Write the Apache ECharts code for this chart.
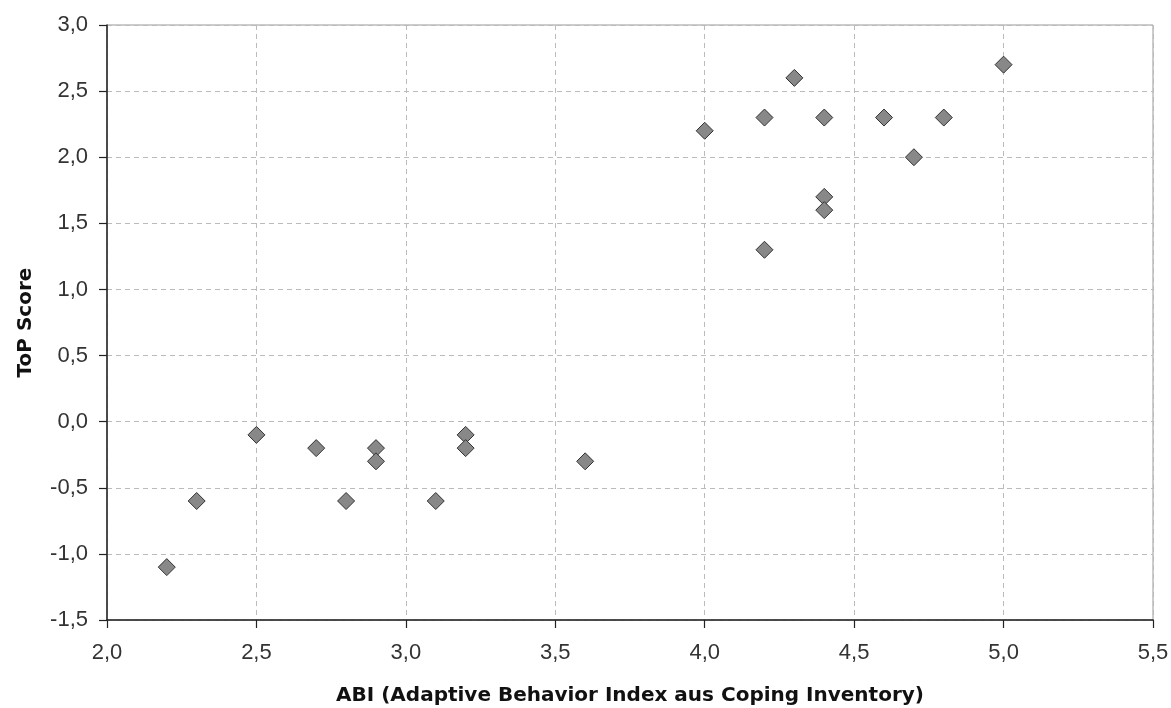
<!DOCTYPE html>
<html>
<head>
<meta charset="utf-8">
<script src="https://cdn.jsdelivr.net/npm/echarts@6/dist/echarts.min.js"></script>
<style>
html,body{margin:0;padding:0;background:#fff;}
#chart{width:1171px;height:708px;}
</style>
</head>
<body>
<div id="chart"></div>
<script>
const abi = [2.2, 2.3, 2.5, 2.7, 2.8, 2.9, 2.9, 3.1, 3.2, 3.2, 3.6, 4.0, 4.2, 4.2, 4.3, 4.4, 4.4, 4.4, 4.6, 4.7, 4.8, 5.0];
const topScore = [-1.1, -0.6, -0.1, -0.2, -0.6, -0.2, -0.3, -0.6, -0.1, -0.2, -0.3, 2.2, 2.3, 1.3, 2.6, 2.3, 1.7, 1.6, 2.3, 2.0, 2.3, 2.7];
const xTitle = 'ABI (Adaptive Behavior Index aus Coping Inventory)';
const yTitle = 'ToP Score';

const fmt = v => v.toFixed(1).replace('.', ',');
const labelStyle = {formatter: fmt, fontFamily: 'Liberation Sans, Arial', fontSize: 22, color: '#333'};
const titleStyle = {fontFamily: 'DejaVu Sans', fontWeight: 'bold', fontSize: 20, color: '#111'};
const chart = echarts.init(document.getElementById('chart'));
chart.setOption({
  backgroundColor: '#fff',
  animation: false,
  grid: {left: 107, right: 18, top: 25, bottom: 88, show: true, borderColor: '#999', borderWidth: 1,
         containLabel: false, outerBoundsMode: 'none'},
  xAxis: {
    type: 'value', min: 2.0, max: 5.5, interval: 0.5,
    name: xTitle, nameLocation: 'middle', nameGap: 66,
    nameTextStyle: titleStyle,
    axisLine: {show: true, onZero: false, lineStyle: {color: '#222', width: 1.5}},
    axisTick: {show: true, inside: false, length: 8, lineStyle: {color: '#222', width: 1.2}},
    axisLabel: Object.assign({margin: 22}, labelStyle),
    splitLine: {show: true, lineStyle: {color: '#bbb', type: [5, 4]}}
  },
  yAxis: {
    type: 'value', min: -1.5, max: 3.0, interval: 0.5,
    name: yTitle, nameLocation: 'middle', nameGap: 71, nameRotate: 90,
    nameTextStyle: titleStyle,
    axisLine: {show: true, onZero: false, lineStyle: {color: '#222', width: 1.5}},
    axisTick: {show: true, inside: false, length: 8, lineStyle: {color: '#222', width: 1.2}},
    axisLabel: Object.assign({margin: 19}, labelStyle),
    splitLine: {show: true, lineStyle: {color: '#bbb', type: [5, 4]}}
  },
  series: [{
    type: 'scatter',
    symbol: 'diamond',
    symbolSize: 17,
    itemStyle: {color: '#888', borderColor: '#333', borderWidth: 1, opacity: 1},
    data: abi.map((x, i) => [x, topScore[i]])
  }]
});
</script>
</body>
</html>
